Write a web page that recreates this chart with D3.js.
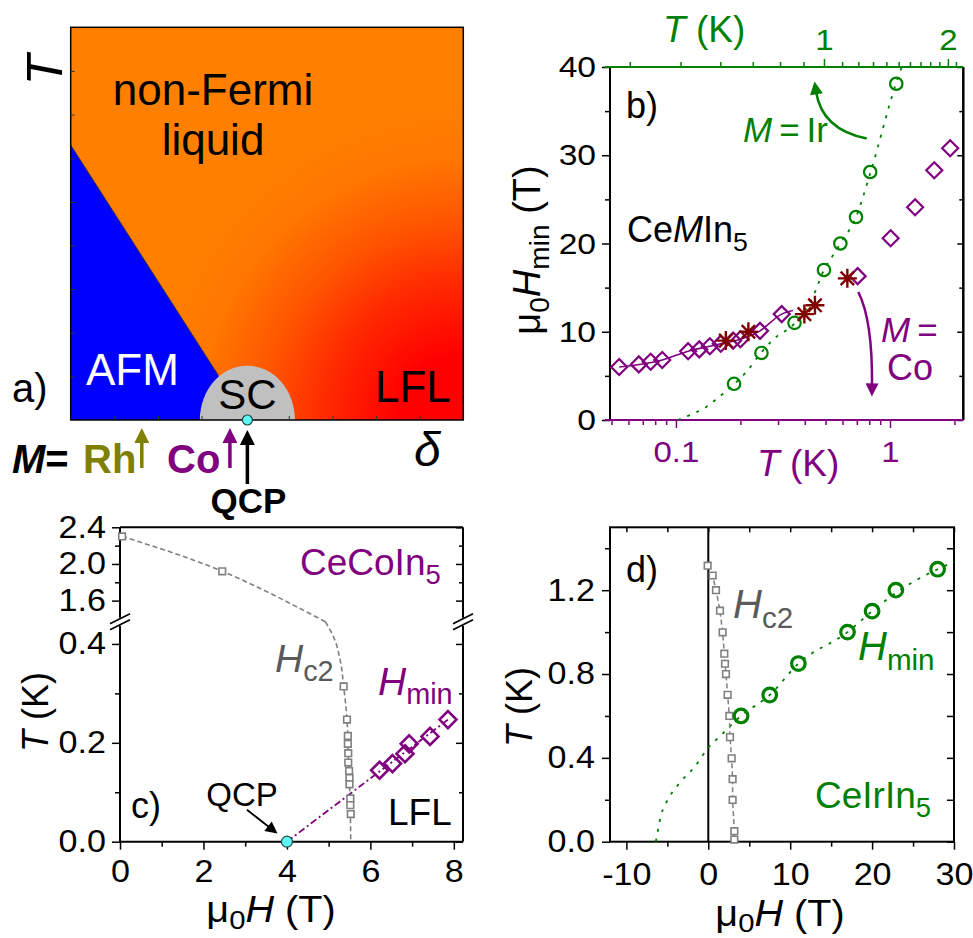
<!DOCTYPE html>
<html>
<head>
<meta charset="utf-8">
<script src="https://cdn.jsdelivr.net/npm/d3@7"></script>
<style>
  body { margin: 0; background: #fff; }
  svg { display: block; }
</style>
</head>
<body>
<svg id="fig" width="973" height="938"></svg>
<script>
// ---------------- (a) schematic phase diagram (arbitrary units, 0..9) ----------------
const afmLineDelta = [0, 3.38];
const afmLineT     = [6.3, 1.03];
const scDomeCenter = 4.05, scDomeHalfWidth = 1.09, scDomeHeight = 1.245;
const qcpDelta = 4.05;
const dopantNames  = ["Rh", "Co"];
const dopantDelta  = [1.63, 3.65];
const dopantColors = ["#808000", "#800080"];

// ---------------- (b) mu0 Hmin vs T for CeMIn5 ----------------
const irT      = [0.64, 0.73, 0.86, 1.00, 1.09, 1.185, 1.28, 1.48];
const irHmin   = [4.1, 7.6, 11.0, 17.0, 20.0, 23.0, 28.1, 38.1];
const irGuideT = [0.494, 0.522, 0.563, 0.593, 0.64, 0.68, 0.728, 0.773, 0.862, 0.945, 1.0, 1.069, 1.09, 1.185, 1.283, 1.477, 1.526];
const irGuideH = [0, 0.57, 1.5, 2.5, 4.05, 5.5, 7.6, 9.1, 11.0, 14.0, 17.0, 19.3, 20.0, 23.0, 28.1, 38.1, 40];
const coT      = [0.0543, 0.0671, 0.0762, 0.0863, 0.114, 0.1285, 0.144, 0.162, 0.185, 0.2, 0.247, 0.312, 0.706, 1.007, 1.31, 1.61, 1.91];
const coHmin   = [6.0, 6.3, 6.6, 6.8, 7.8, 8.0, 8.35, 8.65, 9.0, 9.15, 10.1, 12.0, 16.3, 20.6, 24.1, 28.3, 30.8];
const coGuideT = [0.0543, 0.0863, 0.114, 0.144, 0.162, 0.2, 0.247, 0.312, 0.352];
const coGuideH = [6.0, 6.8, 7.8, 8.35, 8.65, 9.15, 10.1, 12.0, 12.4];
const coStarT  = [0.171, 0.218, 0.398, 0.446, 0.632];
const coStarH  = [9.0, 10.0, 12.0, 13.0, 16.05];
const bTopMajor = [1, 2];
const bTopMinor = [0.4, 0.5, 0.6, 0.7, 0.8, 0.9, 1.1, 1.2, 1.3, 1.4, 1.5, 1.6, 1.7, 1.8, 1.9, 2.1];
const bBotMajor = [0.1, 1];
const bBotMinor = [0.05, 0.06, 0.07, 0.08, 0.09, 0.2, 0.3, 0.4, 0.5, 0.6, 0.7, 0.8, 0.9, 2];
const bYMajor = [0, 10, 20, 30, 40];
const bYMinor = [5, 15, 25, 35];

// ---------------- (c) CeCoIn5 H-T diagram ----------------
const coHc2UpperH = [0.05, 2.45];
const coHc2UpperT = [2.3, 1.92];
const coHc2LowerH = [5.36, 5.44, 5.46, 5.46, 5.47, 5.47, 5.49, 5.5, 5.5, 5.52, 5.52, 5.53];
const coHc2LowerT = [0.314, 0.247, 0.214, 0.198, 0.179, 0.16, 0.143, 0.129, 0.116, 0.0875, 0.074, 0.056];
const coHc2GuideUpperH = [0.05, 2.45, 4.92];
const coHc2GuideUpperT = [2.3, 1.92, 1.37];
const coHc2GuideLowerH = [4.92, 5.12, 5.28, 5.36, 5.44, 5.47, 5.5, 5.52, 5.53];
const coHc2GuideLowerT = [0.445, 0.414, 0.366, 0.314, 0.247, 0.18, 0.12, 0.06, 0];
const coHminH = [6.22, 6.53, 6.83, 6.93, 7.43, 7.86];
const coHminT = [0.1445, 0.158, 0.178, 0.198, 0.213, 0.247];
const coQcpH = 4.0;
const cXMajor = [0, 2, 4, 6, 8], cXMinor = [1, 3, 5, 7];
const cUpMajor = [2.4, 2.0, 1.6], cUpMinor = [2.2, 1.8];
const cLowMajor = [0.0, 0.2, 0.4], cLowMinor = [0.1, 0.3];

// ---------------- (d) CeIrIn5 H-T diagram ----------------
const irHc2H = [-0.08, 0.53, 0.94, 1.43, 1.75, 1.96, 2.04, 2.16, 2.36, 2.57, 2.65, 2.85, 2.97, 2.97, 3.18, 3.18];
const irHc2T = [1.317, 1.27, 1.2, 1.102, 0.999, 0.897, 0.849, 0.8, 0.701, 0.6, 0.499, 0.398, 0.298, 0.199, 0.05, 0.01];
const irHminH = [4.0, 7.5, 11.0, 17.0, 20.0, 22.9, 28.0];
const irHminT = [0.6, 0.7, 0.85, 1.0, 1.1, 1.2, 1.3];
const irFitH = [-6.4, -5.8, -4.8, -3.5, -1.5, 0, 1.34, 4, 7.5, 11, 17, 20, 23, 28, 30];
const irFitT = [0, 0.12, 0.21, 0.28, 0.365, 0.449, 0.5, 0.6, 0.7, 0.85, 1.0, 1.1, 1.19, 1.3, 1.335];
const dXMajor = [-10, 0, 10, 20, 30], dXMinor = [-5, 5, 15, 25];
const dYMajor = [0, 0.4, 0.8, 1.2], dYMinor = [0.2, 0.6, 1.0, 1.4];

// ---------------- helpers ----------------
const FONT = '"Liberation Sans", Arial, Helvetica, sans-serif';
const PURPLE = "#800080", GREEN = "#008000", OLIVE = "#808000", DKRED = "#800000", GRAY = "#808080", HGRAY = "#5a5a5a";
const svg = d3.select("#fig").attr("font-family", FONT);
const defs = svg.append("defs");
svg.append("rect").attr("width", 973).attr("height", 938).attr("fill", "#fff");

function zip(a, b) { return a.map((v, i) => [v, b[i]]); }

// text built from parts: {t, i (italic), sub (subscript), b (bold)}
function rich(g, x, y, parts, o = {}) {
  const size = o.size || 30;
  const t = g.append("text").attr("x", x).attr("y", y)
    .attr("font-size", size).attr("fill", o.color || "#000")
    .attr("text-anchor", o.anchor || "start");
  if (o.weight) t.attr("font-weight", o.weight);
  if (o.rotate) t.attr("transform", `rotate(${o.rotate},${x},${y})`);
  let shift = 0;
  const drop = size * (o.drop ?? 0.24);
  parts.forEach(p => {
    const s = t.append("tspan").text(p.t);
    if (p.i) s.attr("font-style", "italic");
    if (p.b) s.attr("font-weight", "bold");
    if (p.sub) {
      s.attr("font-size", size * 0.74).attr("dy", drop - shift);
      shift = drop;
    } else if (shift) {
      s.attr("dy", -shift); shift = 0;
    }
  });
  if (o.widen) {
    const L = t.node().getComputedTextLength();
    t.attr("textLength", L * o.widen).attr("lengthAdjust", "spacingAndGlyphs");
  }
  return t;
}

// axis with major labelled ticks and optional minor ticks
function drawAxis(g, make, scale, tr, o) {
  const color = o.color || "#000";
  const a = g.append("g").attr("transform", tr);
  a.call(make(scale).tickValues(o.major).tickSize(o.len ?? 8).tickPadding(o.pad ?? 4)
    .tickFormat(o.fmt || (() => "")));
  a.select(".domain").remove();
  a.selectAll("line").attr("stroke", color).attr("stroke-width", 1.5);
  a.selectAll("text").attr("font-size", o.size || 30).attr("fill", color).attr("font-family", FONT);
  if (o.widen) {
    a.selectAll("text").each(function () {
      const L = this.getComputedTextLength();
      d3.select(this).attr("textLength", L * o.widen).attr("lengthAdjust", "spacingAndGlyphs");
    });
  }
  if (o.minor) {
    const m = g.append("g").attr("transform", tr);
    m.call(make(scale).tickValues(o.minor).tickSize(o.mlen ?? 5).tickFormat(() => ""));
    m.select(".domain").remove();
    m.selectAll("line").attr("stroke", color).attr("stroke-width", 1.5);
  }
  return a;
}

function arrowMarker(id, color, len, wid) {
  defs.append("marker").attr("id", id)
    .attr("viewBox", "0 0 10 10").attr("refX", 2).attr("refY", 5)
    .attr("markerWidth", len).attr("markerHeight", wid)
    .attr("markerUnits", "userSpaceOnUse").attr("orient", "auto")
    .append("path").attr("d", "M0,0 L10,5 L0,10 Z").attr("fill", color);
}
arrowMarker("arOlive", OLIVE, 20, 15);
arrowMarker("arPurple", PURPLE, 20, 15);
arrowMarker("arBlack", "#000", 20, 15);
arrowMarker("arGreenB", GREEN, 16, 13);
arrowMarker("arPurpleB", PURPLE, 16, 13);
arrowMarker("arBlackC", "#000", 14, 12);

// open markers
const diamond = { draw(ctx, s) { const r = Math.sqrt(s); ctx.moveTo(0, -r); ctx.lineTo(r, 0); ctx.lineTo(0, r); ctx.lineTo(-r, 0); ctx.closePath(); } };
const squareSym = { draw(ctx, s) { const r = Math.sqrt(s); ctx.rect(-r, -r, 2 * r, 2 * r); } };
const starSym = { draw(ctx, s) {
  const r = Math.sqrt(s);
  for (let k = 0; k < 4; k++) {
    const a = k * Math.PI / 4;
    ctx.moveTo(-r * Math.cos(a), -r * Math.sin(a)); ctx.lineTo(r * Math.cos(a), r * Math.sin(a));
  }
} };

// =====================================================================
// (a)
// =====================================================================
const ga = svg.append("g");
const ax = d3.scaleLinear().domain([0, 9]).range([70.7, 463.3]);
const ay = d3.scaleLinear().domain([0, 9]).range([420, 27.3]);

const grad = defs.append("radialGradient").attr("id", "nflGrad")
  .attr("gradientUnits", "userSpaceOnUse")
  .attr("cx", ax(9)).attr("cy", ay(0)).attr("r", 330);
[[0, "#ff0000"], [0.2, "#ff0000"], [0.42, "#ff2a00"], [0.6, "#ff5500"], [0.8, "#ff7800"], [1, "#ff8000"]]
  .forEach(([o, c]) => grad.append("stop").attr("offset", o).attr("stop-color", c));

ga.append("rect").attr("x", ax(0)).attr("y", ay(9))
  .attr("width", ax(9) - ax(0)).attr("height", ay(0) - ay(9)).attr("fill", "url(#nflGrad)");

// AFM region below the boundary line
const slope = (afmLineT[1] - afmLineT[0]) / (afmLineDelta[1] - afmLineDelta[0]);
const dEnd = 3.6;
const afmPoly = [[0, afmLineT[0]], [dEnd, afmLineT[0] + slope * dEnd], [dEnd, 0], [0, 0]];
ga.append("path").attr("d", d3.line().x(d => ax(d[0])).y(d => ay(d[1]))(afmPoly) + "Z").attr("fill", "#0000ff");
ga.append("line").attr("x1", ax(afmLineDelta[0])).attr("y1", ay(afmLineT[0]))
  .attr("x2", ax(afmLineDelta[1])).attr("y2", ay(afmLineT[1])).attr("stroke", "#000").attr("stroke-width", 1);

// superconducting dome
const rx = ax(scDomeHalfWidth) - ax(0), ry = ay(0) - ay(scDomeHeight);
ga.append("path")
  .attr("d", `M${ax(scDomeCenter - scDomeHalfWidth)},${ay(0)} A${rx},${ry} 0 0 1 ${ax(scDomeCenter + scDomeHalfWidth)},${ay(0)} Z`)
  .attr("fill", "#c0c0c0");

// frame + inward ticks
ga.append("rect").attr("x", ax(0)).attr("y", ay(9)).attr("width", ax(9) - ax(0)).attr("height", ay(0) - ay(9))
  .attr("fill", "none").attr("stroke", "#000").attr("stroke-width", 1.5);
const aTicks = d3.range(1, 9);
drawAxis(ga, d3.axisRight, ay, `translate(${ax(0)},0)`, { major: aTicks, len: 4 });
drawAxis(ga, d3.axisTop, ax, `translate(0,${ay(0)})`, { major: aTicks, len: 4 });
ga.selectAll("g line").attr("stroke-width", 1).attr("stroke", "#333");

// region labels
rich(ga, 213, 105, [{ t: "non-Fermi" }], { size: 44, anchor: "middle" });
rich(ga, 213, 155, [{ t: "liquid" }], { size: 44, anchor: "middle" });
rich(ga, 86, 385, [{ t: "AFM" }], { size: 44, color: "#fff" });
rich(ga, ax(scDomeCenter), 409, [{ t: "SC" }], { size: 42, anchor: "middle" });
rich(ga, 375, 402, [{ t: "LFL" }], { size: 44 });
rich(ga, 12, 402, [{ t: "a)" }], { size: 40 });
rich(ga, 62, 70, [{ t: "T", i: true }], { size: 50, anchor: "middle", rotate: -90 });
rich(ga, 414, 466, [{ t: "δ", i: true }], { size: 48 });

// QCP marker and dopant arrows
dopantDelta.forEach((d, i) => {
  ga.append("line").attr("x1", ax(d)).attr("y1", 468).attr("x2", ax(d)).attr("y2", 440)
    .attr("stroke", dopantColors[i]).attr("stroke-width", 3.5)
    .attr("marker-end", `url(#${i === 0 ? "arOlive" : "arPurple"})`);
});
ga.append("line").attr("x1", ax(qcpDelta)).attr("y1", 484).attr("x2", ax(qcpDelta)).attr("y2", 442)
  .attr("stroke", "#000").attr("stroke-width", 3.5).attr("marker-end", "url(#arBlack)");
ga.append("circle").attr("cx", ax(qcpDelta)).attr("cy", ay(0)).attr("r", 5)
  .attr("fill", "#5ff5f5").attr("stroke", "#1a4a4a").attr("stroke-width", 1.2);

rich(ga, 12, 473, [{ t: "M", i: true }, { t: "=" }], { size: 40, weight: "bold" });
rich(ga, 83, 473, [{ t: dopantNames[0] }], { size: 40, weight: "bold", color: dopantColors[0] });
rich(ga, 167, 473, [{ t: dopantNames[1] }], { size: 40, weight: "bold", color: dopantColors[1] });
rich(ga, ax(qcpDelta) + 1, 513, [{ t: "QCP" }], { size: 35, weight: "bold", anchor: "middle" });

// =====================================================================
// (b)
// =====================================================================
const gb = svg.append("g");
const bxBot = d3.scaleLog().domain([0.0492, 2.2]).range([610, 963.3]);
const bxTop = d3.scalePow().exponent(-0.21).domain([0.3677, 2.196]).range([610, 963.3]);
const by = d3.scaleLinear().domain([0, 40]).range([420, 67]);

// frame
gb.append("line").attr("x1", 610).attr("x2", 610).attr("y1", by(40)).attr("y2", by(0)).attr("stroke", "#000").attr("stroke-width", 2);
gb.append("line").attr("x1", 963.3).attr("x2", 963.3).attr("y1", by(40)).attr("y2", by(0)).attr("stroke", "#000").attr("stroke-width", 2.5);

drawAxis(gb, d3.axisLeft, by, "translate(610,0)", { major: bYMajor, minor: bYMinor, len: 8, mlen: 5, pad: 6, size: 30, fmt: d => d, widen: 1.12 });
drawAxis(gb, d3.axisLeft, by, "translate(963.3,0)", { major: bYMajor, minor: bYMinor, len: 6, mlen: 4 });
drawAxis(gb, d3.axisTop, bxTop, `translate(0,${by(40)})`, { major: bTopMajor, minor: bTopMinor, len: 8, mlen: 5, pad: 9, size: 30, color: GREEN, fmt: d => d, widen: 1.1 });
drawAxis(gb, d3.axisBottom, bxBot, `translate(0,${by(0)})`, { major: bBotMajor, minor: bBotMinor, len: 8, mlen: 5, pad: 13, size: 30, color: PURPLE, fmt: d => d, widen: 1.1 });
gb.append("line").attr("x1", 605).attr("x2", 963.3).attr("y1", by(40)).attr("y2", by(40)).attr("stroke", GREEN).attr("stroke-width", 2);
gb.append("line").attr("x1", 605).attr("x2", 963.3).attr("y1", by(0)).attr("y2", by(0)).attr("stroke", PURPLE).attr("stroke-width", 2);

// guides
gb.append("path").attr("d", d3.line().curve(d3.curveMonotoneX).x(d => bxTop(d[0])).y(d => by(d[1]))(zip(irGuideT, irGuideH)))
  .attr("fill", "none").attr("stroke", GREEN).attr("stroke-width", 1.8).attr("stroke-dasharray", "3,7");
gb.append("path").attr("d", d3.line().curve(d3.curveMonotoneX).x(d => bxBot(d[0])).y(d => by(d[1]))(zip(coGuideT, coGuideH)))
  .attr("fill", "none").attr("stroke", PURPLE).attr("stroke-width", 1.6);

// markers
gb.selectAll(".ir").data(zip(irT, irHmin)).join("circle")
  .attr("cx", d => bxTop(d[0])).attr("cy", d => by(d[1])).attr("r", 6.2)
  .attr("fill", "none").attr("stroke", GREEN).attr("stroke-width", 2.2);
gb.selectAll(".co").data(zip(coT, coHmin)).join("path")
  .attr("transform", d => `translate(${bxBot(d[0])},${by(d[1])})`)
  .attr("d", d3.symbol().type(diamond).size(64))
  .attr("fill", "none").attr("stroke", PURPLE).attr("stroke-width", 2.2);
gb.selectAll(".st").data(zip(coStarT, coStarH)).join("path")
  .attr("transform", d => `translate(${bxBot(d[0])},${by(d[1])})`)
  .attr("d", d3.symbol().type(starSym).size(90))
  .attr("fill", "none").attr("stroke", DKRED).attr("stroke-width", 2.4);

// annotation arrows
const gArrowT = [1.256, 0.99, 0.96], gArrowH = [31.9, 32.9, 37.2];
gb.append("path")
  .attr("d", `M${bxTop(gArrowT[0])},${by(gArrowH[0])} Q${bxTop(gArrowT[1])},${by(gArrowH[1])} ${bxTop(gArrowT[2])},${by(gArrowH[2])}`)
  .attr("fill", "none").attr("stroke", GREEN).attr("stroke-width", 2.5).attr("marker-end", "url(#arGreenB)");
const pArrowT = [0.711, 0.83, 0.824], pArrowH = [14.5, 11.3, 3.85];
gb.append("path")
  .attr("d", `M${bxBot(pArrowT[0])},${by(pArrowH[0])} Q${bxBot(pArrowT[1])},${by(pArrowH[1])} ${bxBot(pArrowT[2])},${by(pArrowH[2])}`)
  .attr("fill", "none").attr("stroke", PURPLE).attr("stroke-width", 2.5).attr("marker-end", "url(#arPurpleB)");

// labels
rich(gb, 626, 118, [{ t: "b)" }], { size: 36 });
rich(gb, 627, 242, [{ t: "Ce" }, { t: "M", i: true }, { t: "In" }, { t: "5", sub: true }], { size: 36 });
rich(gb, 743, 142, [{ t: "M", i: true }, { t: "\u2009=\u2009Ir" }], { size: 35, color: GREEN });
rich(gb, 881, 342, [{ t: "M", i: true }, { t: "\u2009=" }], { size: 35, color: PURPLE });
rich(gb, 887, 380, [{ t: "Co" }], { size: 36, color: PURPLE });
rich(gb, 663, 42, [{ t: "T", i: true }, { t: " (K)" }], { size: 37, color: GREEN });
rich(gb, 757, 476, [{ t: "T", i: true }, { t: " (K)" }], { size: 37, color: PURPLE });
rich(gb, 540, 250, [{ t: "μ" }, { t: "0", sub: true }, { t: "H", i: true }, { t: "min", sub: true }, { t: " (T)" }],
  { size: 38, anchor: "middle", rotate: -90 });

// =====================================================================
// (c)
// =====================================================================
const gc = svg.append("g");
const cx = d3.scaleLinear().domain([0, 8.22]).range([120, 463]);
const cyLow = d3.scaleLinear().domain([0, 0.445]).range([841.7, 621.7]);
const cyUp = d3.scaleLinear().domain([1.37, 2.4]).range([621.7, 527.3]);
const cBreak = 621.7;

// frame with axis breaks
gc.append("line").attr("x1", 120).attr("x2", 463).attr("y1", cyUp(2.4)).attr("y2", cyUp(2.4)).attr("stroke", "#000").attr("stroke-width", 2);
gc.append("line").attr("x1", 120).attr("x2", 463).attr("y1", cyLow(0)).attr("y2", cyLow(0)).attr("stroke", "#000").attr("stroke-width", 2);
[120, 463].forEach(x => {
  gc.append("line").attr("x1", x).attr("x2", x).attr("y1", cyUp(2.4)).attr("y2", cBreak - 4).attr("stroke", "#000").attr("stroke-width", 2);
  gc.append("line").attr("x1", x).attr("x2", x).attr("y1", cBreak + 4).attr("y2", cyLow(0)).attr("stroke", "#000").attr("stroke-width", 2);
  [-3, 3].forEach(o => gc.append("line").attr("x1", x - 10).attr("y1", cBreak + o + 5).attr("x2", x + 10).attr("y2", cBreak + o - 5)
    .attr("stroke", "#000").attr("stroke-width", 1.8));
});

drawAxis(gc, d3.axisLeft, cyUp, "translate(120,0)", { major: cUpMajor, minor: cUpMinor, pad: 6, size: 31, fmt: d3.format(".1f"), widen: 1.1 });
drawAxis(gc, d3.axisLeft, cyLow, "translate(120,0)", { major: cLowMajor, minor: cLowMinor, pad: 6, size: 31, fmt: d3.format(".1f"), widen: 1.1 });
drawAxis(gc, d3.axisLeft, cyUp, "translate(463,0)", { major: cUpMajor, minor: cUpMinor, len: 7, mlen: 4 });
drawAxis(gc, d3.axisLeft, cyLow, "translate(463,0)", { major: cLowMajor, minor: cLowMinor, len: 7, mlen: 4 });
drawAxis(gc, d3.axisBottom, cx, `translate(0,${cyLow(0)})`, { major: cXMajor, minor: cXMinor, pad: 10, size: 31, fmt: d => d, widen: 1.1 });

// Hc2 guide
gc.append("path").attr("d", d3.line().curve(d3.curveMonotoneX).x(d => cx(d[0])).y(d => cyUp(d[1]))(zip(coHc2GuideUpperH, coHc2GuideUpperT)))
  .attr("fill", "none").attr("stroke", GRAY).attr("stroke-width", 1.6).attr("stroke-dasharray", "5,3");
gc.append("path").attr("d", d3.line().curve(d3.curveMonotoneY).x(d => cx(d[0])).y(d => cyLow(d[1]))(zip(coHc2GuideLowerH, coHc2GuideLowerT)))
  .attr("fill", "none").attr("stroke", GRAY).attr("stroke-width", 1.6).attr("stroke-dasharray", "5,3");
// Hmin extrapolation to the QCP
const lastMin = coHminH.length - 1;
gc.append("path").attr("d", d3.line().x(d => cx(d[0])).y(d => cyLow(d[1]))([[coQcpH, 0], [coHminH[lastMin], coHminT[lastMin]]]))
  .attr("fill", "none").attr("stroke", PURPLE).attr("stroke-width", 1.8).attr("stroke-dasharray", "7,3,2,3");

const sq = d3.symbol().type(squareSym).size(11);
gc.selectAll(".hu").data(zip(coHc2UpperH, coHc2UpperT)).join("path")
  .attr("transform", d => `translate(${cx(d[0])},${cyUp(d[1])})`).attr("d", sq)
  .attr("fill", "#fff").attr("stroke", GRAY).attr("stroke-width", 1.6);
gc.selectAll(".hl").data(zip(coHc2LowerH, coHc2LowerT)).join("path")
  .attr("transform", d => `translate(${cx(d[0])},${cyLow(d[1])})`).attr("d", sq)
  .attr("fill", "#fff").attr("stroke", GRAY).attr("stroke-width", 1.6);
gc.selectAll(".hm").data(zip(coHminH, coHminT)).join("path")
  .attr("transform", d => `translate(${cx(d[0])},${cyLow(d[1])})`)
  .attr("d", d3.symbol().type(diamond).size(72))
  .attr("fill", "none").attr("stroke", PURPLE).attr("stroke-width", 2.6);

// QCP point and pointer
gc.append("line").attr("x1", cx(coQcpH) - 40).attr("y1", cyLow(0) - 32).attr("x2", cx(coQcpH) - 17).attr("y2", cyLow(0) - 14)
  .attr("stroke", "#000").attr("stroke-width", 1.8).attr("marker-end", "url(#arBlackC)");
gc.append("circle").attr("cx", cx(coQcpH)).attr("cy", cyLow(0)).attr("r", 5.5)
  .attr("fill", "#5ff5f5").attr("stroke", "#1a4a4a").attr("stroke-width", 1.2);

rich(gc, 131, 818, [{ t: "c)" }], { size: 36 });
rich(gc, 242, 806, [{ t: "QCP" }], { size: 33, anchor: "middle" });
rich(gc, 388, 825, [{ t: "LFL" }], { size: 37 });
rich(gc, 300, 575, [{ t: "CeCoIn" }, { t: "5", sub: true }], { size: 37, color: PURPLE });
rich(gc, 275, 672, [{ t: "H", i: true }, { t: "c2", sub: true }], { size: 39, color: HGRAY });
rich(gc, 378, 695, [{ t: "H", i: true }, { t: "min", sub: true }], { size: 39, color: PURPLE });
rich(gc, 271, 922, [{ t: "μ" }, { t: "0", sub: true }, { t: "H", i: true }, { t: " (T)" }], { size: 36, anchor: "middle", widen: 1.1, drop: 0.2 });
rich(gc, 48, 712, [{ t: "T", i: true }, { t: " (K)" }], { size: 36, anchor: "middle", rotate: -90 });

// =====================================================================
// (d)
// =====================================================================
const gd = svg.append("g");
const dx = d3.scaleLinear().domain([-12, 30]).range([610, 954]);
const dy = d3.scaleLinear().domain([0, 1.5]).range([841.7, 527.3]);

gd.append("rect").attr("x", 610).attr("y", dy(1.5)).attr("width", 344).attr("height", dy(0) - dy(1.5))
  .attr("fill", "none").attr("stroke", "#000").attr("stroke-width", 2);
drawAxis(gd, d3.axisLeft, dy, "translate(610,0)", { major: dYMajor, minor: dYMinor, pad: 7, size: 31, fmt: d3.format(".1f"), widen: 1.1 });
drawAxis(gd, d3.axisLeft, dy, "translate(954,0)", { major: dYMajor, minor: dYMinor, len: 7, mlen: 7 });
drawAxis(gd, d3.axisBottom, dx, `translate(0,${dy(0)})`, { major: dXMajor, minor: dXMinor, pad: 13, size: 31, fmt: d => String(d), widen: 1.1 });
drawAxis(gd, d3.axisBottom, dx, `translate(0,${dy(1.5)})`, { major: dXMajor, minor: dXMinor, len: 5, mlen: 5 });
// zero-field line
gd.append("line").attr("x1", dx(0)).attr("x2", dx(0)).attr("y1", dy(1.5)).attr("y2", dy(0)).attr("stroke", "#000").attr("stroke-width", 2);

gd.append("path").attr("d", d3.line().curve(d3.curveMonotoneX).x(d => dx(d[0])).y(d => dy(d[1]))(zip(irFitH, irFitT)))
  .attr("fill", "none").attr("stroke", GREEN).attr("stroke-width", 1.8).attr("stroke-dasharray", "3,7");
gd.append("path").attr("d", d3.line().x(d => dx(d[0])).y(d => dy(d[1]))(zip(irHc2H, irHc2T)))
  .attr("fill", "none").attr("stroke", GRAY).attr("stroke-width", 1.5).attr("stroke-dasharray", "5,3");
gd.selectAll(".sq").data(zip(irHc2H, irHc2T)).join("path")
  .attr("transform", d => `translate(${dx(d[0])},${dy(d[1])})`).attr("d", sq)
  .attr("fill", "#fff").attr("stroke", GRAY).attr("stroke-width", 1.6);
gd.selectAll(".ci").data(zip(irHminH, irHminT)).join("circle")
  .attr("cx", d => dx(d[0])).attr("cy", d => dy(d[1])).attr("r", 6.8)
  .attr("fill", "none").attr("stroke", GREEN).attr("stroke-width", 3.2);

rich(gd, 626, 582, [{ t: "d)" }], { size: 36 });
rich(gd, 733, 618, [{ t: "H", i: true }, { t: "c2", sub: true }], { size: 40, color: HGRAY });
rich(gd, 858, 660, [{ t: "H", i: true }, { t: "min", sub: true }], { size: 40, color: GREEN });
rich(gd, 815, 808, [{ t: "CeIrIn" }, { t: "5", sub: true }], { size: 37, color: GREEN });
rich(gd, 780, 926, [{ t: "μ" }, { t: "0", sub: true }, { t: "H", i: true }, { t: " (T)" }], { size: 36, anchor: "middle", widen: 1.1, drop: 0.16 });
rich(gd, 532, 707, [{ t: "T", i: true }, { t: " (K)" }], { size: 36, anchor: "middle", rotate: -90 });
</script>
</body>
</html>
